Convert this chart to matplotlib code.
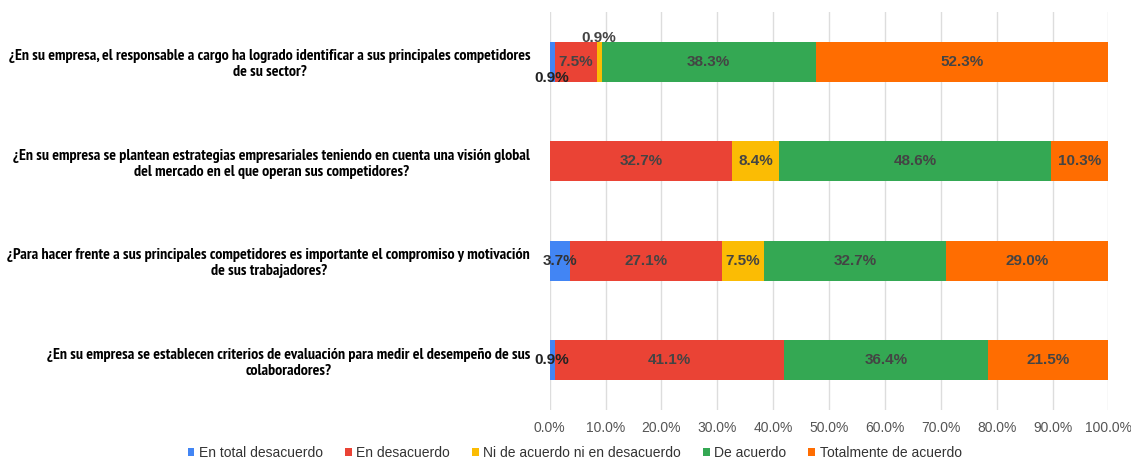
import matplotlib.pyplot as plt
import numpy as np
from matplotlib import font_manager

# Survey data (percent of respondents)
questions = [
    "¿En su empresa, el responsable a cargo ha logrado identificar a sus principales competidores\nde su sector?",
    "¿En su empresa se plantean estrategias empresariales teniendo en cuenta una visión global\ndel mercado en el que operan sus competidores?",
    "¿Para hacer frente a sus principales competidores es importante el compromiso y motivación\nde sus trabajadores?",
    "¿En su empresa se establecen criterios de evaluación para medir el desempeño de sus\ncolaboradores?",
]
categories = ["En total desacuerdo", "En desacuerdo", "Ni de acuerdo ni en desacuerdo",
              "De acuerdo", "Totalmente de acuerdo"]
total_desacuerdo = [0.9, 0.0, 3.7, 0.9]
desacuerdo = [7.5, 32.7, 27.1, 41.1]
neutral = [0.9, 8.4, 7.5, 0.0]
de_acuerdo = [38.3, 48.6, 32.7, 36.4]
totalmente = [52.3, 10.3, 29.0, 21.5]
colors = ["#4285F4", "#EA4335", "#FBBC04", "#34A853", "#FF6D01"]

series = [total_desacuerdo, desacuerdo, neutral, de_acuerdo, totalmente]

# pick a narrow font that has a real bold face, for the long questions
def weight_num(w):
    if isinstance(w, (int, float)):
        return w
    return {'bold': 700, 'heavy': 800, 'black': 900, 'extra bold': 800,
            'demibold': 600, 'semibold': 600}.get(str(w).lower(), 400)

bold_names = {f.name for f in font_manager.fontManager.ttflist
              if weight_num(f.weight) >= 700 and f.style == 'normal'}
qfont = "Liberation Sans"
for cand in ["Liberation Sans Narrow", "Arial Narrow", "Arimo Narrow", "Archivo Narrow",
             "PT Sans Narrow", "Roboto Condensed", "Open Sans Condensed", "Encode Sans Condensed"]:
    if cand in bold_names:
        qfont = cand
        break
plt.rcParams['font.family'] = ['Liberation Sans', 'DejaVu Sans']

fig = plt.figure(figsize=(11.31, 4.59), dpi=100)
ax = fig.add_axes([0.486, 0.107, 0.494, 0.867])

y = np.arange(len(questions))
left = np.zeros(len(questions))
for vals, col, name in zip(series, colors, categories):
    vals = np.array(vals)
    bars = ax.barh(y, vals, left=left, height=0.4, color=col, label=name, zorder=2)
    for i, (b, v) in enumerate(zip(bars, vals)):
        if v == 0:
            continue
        cx = left[i] + v / 2
        txt = f"{v:.1f}%"
        if v < 1.5:
            if name == "En total desacuerdo":
                dy = 0.16 if i == 0 else 0.0
                ax.text(cx, y[i] + dy, txt, ha='center', va='center', fontsize=11,
                        fontweight='bold', color='#222222', zorder=3)
            else:
                ax.text(cx, y[i] - 0.24, txt, ha='center', va='center', fontsize=11,
                        fontweight='bold', color='#444444', zorder=3)
        elif v < 5:
            ax.text(cx, y[i], txt, ha='center', va='center', fontsize=11,
                    fontweight='bold', color='#333333', zorder=3)
        else:
            ax.text(cx, y[i], txt, ha='center', va='center', fontsize=11,
                    fontweight='bold', color='#444444', zorder=3)
    left += vals

ax.set_xlim(0, 100)
ax.set_ylim(3.5, -0.5)
ax.set_xticks(np.arange(0, 101, 10))
ax.set_xticklabels([f"{t:.1f}%" for t in np.arange(0, 101, 10)], color='#555555', fontsize=10)
ax.set_yticks(y)
qlabels = ax.set_yticklabels(questions, fontsize=10, fontweight='bold', family=qfont,
                             multialignment='center')
ax.tick_params(axis='both', length=0)
ax.tick_params(axis='y', pad=14)
ax.tick_params(axis='x', pad=8)
for s in ax.spines.values():
    s.set_visible(False)
ax.grid(axis='x', color='#DDDDDD', linewidth=1, zorder=0)
ax.set_axisbelow(True)

# shrink the question text so the longest one spans about 525 px like the original
fig.canvas.draw()
r = fig.canvas.get_renderer()
w = qlabels[0].get_window_extent(r).width
fs = 10 * 525 / w
for t in qlabels:
    t.set_fontsize(fs)

handles, labels = ax.get_legend_handles_labels()
fig.legend(handles, labels, loc='lower center', bbox_to_anchor=(0.508, -0.03), ncol=5,
           frameon=False, fontsize=10, handlelength=0.5, handleheight=0.5,
           handletextpad=0.3, columnspacing=1.6, labelcolor='#333333')

fig.savefig("out.png", dpi=100)
